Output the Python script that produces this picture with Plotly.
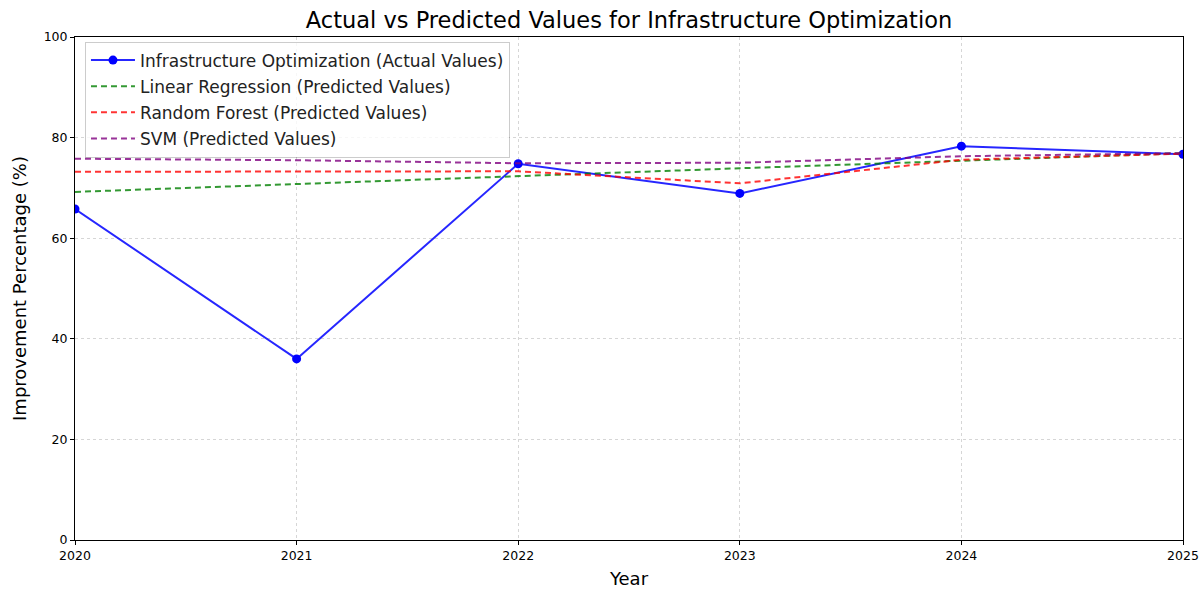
import plotly.graph_objects as go

years = [2020, 2021, 2022, 2023, 2024, 2025]
actual = [65.8, 36.0, 74.8, 68.9, 78.3, 76.7]
linear_pred = [69.2, 70.8, 72.3, 73.9, 75.4, 76.9]
forest_pred = [73.2, 73.2, 73.3, 70.9, 75.6, 76.8]
svm_pred = [75.8, 75.5, 74.9, 75.0, 76.3, 76.9]

names = [
    "Infrastructure Optimization (Actual Values)",
    "Linear Regression (Predicted Values)",
    "Random Forest (Predicted Values)",
    "SVM (Predicted Values)",
]

FONT = "DejaVu Sans"

fig = go.Figure()
fig.add_trace(go.Scatter(
    x=years, y=actual, name=names[0], mode="lines+markers",
    line=dict(color="rgba(0,0,255,0.85)", width=2),
    marker=dict(color="blue", size=9), legendgroup="a",
))
for vals, name, color, grp in [
    (linear_pred, names[1], "rgba(0,128,0,0.8)", "b"),
    (forest_pred, names[2], "rgba(255,0,0,0.8)", "c"),
    (svm_pred, names[3], "rgba(128,0,128,0.8)", "d"),
]:
    fig.add_trace(go.Scatter(
        x=years, y=vals, name=name, mode="lines",
        line=dict(color=color, width=2, dash="6px,4px"), legendgroup=grp,
    ))

axis_common = dict(
    showline=True, linecolor="black", linewidth=1, mirror=True,
    ticks="outside", ticklen=4, tickcolor="black", automargin=False,
    showgrid=True, gridcolor="rgba(0,0,0,0.16)", griddash="3px,3px", gridwidth=1,
    zeroline=False, tickfont=dict(family=FONT, size=12.5, color="black"),
)

fig.update_layout(
    width=1204, height=589,
    margin=dict(l=75, r=21, t=37, b=49),
    paper_bgcolor="white", plot_bgcolor="white",
    title=dict(
        text="Actual vs Predicted Values for Infrastructure Optimization",
        xref="paper", x=0.5, xanchor="center", y=0.965, yanchor="middle",
        font=dict(family=FONT, size=22.5, color="black"),
    ),
    xaxis=dict(
        range=[2020, 2025], tickmode="array", tickvals=years,
        title=dict(text="Year", font=dict(family=FONT, size=18, color="black"), standoff=10),
        **axis_common,
    ),
    yaxis=dict(
        range=[0, 100], tickmode="array", tickvals=[0, 20, 40, 60, 80, 100],
        title=dict(text="Improvement Percentage (%)", font=dict(family=FONT, size=18, color="black"), standoff=12),
        **axis_common,
    ),
    legend=dict(
        x=0.009, y=0.991, xanchor="left", yanchor="top",
        bgcolor="rgba(255,255,255,0.8)", bordercolor="rgba(0,0,0,0.2)", borderwidth=1,
        font=dict(family=FONT, size=17, color="#222"),
        tracegroupgap=1, itemwidth=44,
    ),
    showlegend=True,
)

fig.write_html("out.html")
